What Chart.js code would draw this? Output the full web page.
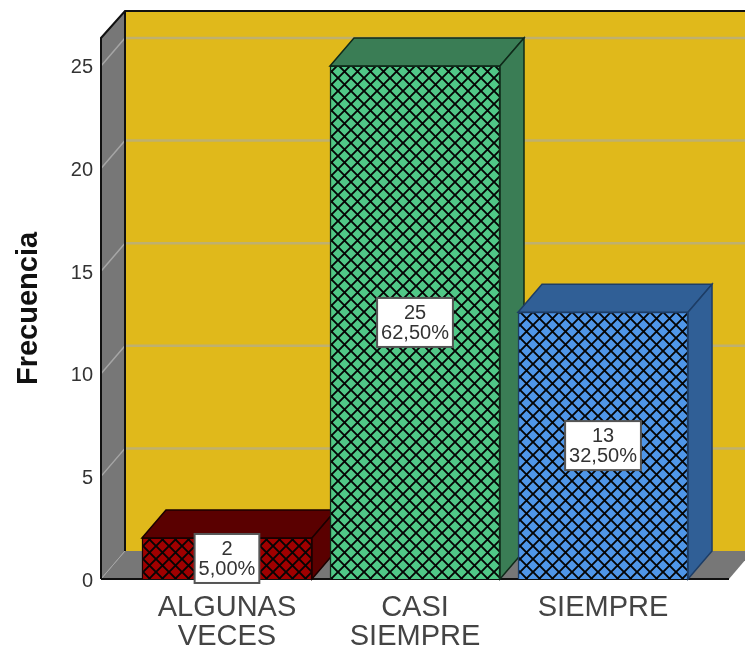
<!DOCTYPE html>
<html>
<head>
  <meta charset="utf-8">
  <script src="https://cdn.jsdelivr.net/npm/chart.js"></script>
  <title>Frecuencia</title>
  <style>
    html, body { margin: 0; padding: 0; background: #fff; }
    canvas { display: block; }
  </style>
</head>
<body>
  <canvas id="freqChart" width="745" height="648"></canvas>

  <script>
    const categories = [['ALGUNAS', 'VECES'], ['CASI', 'SIEMPRE'], ['SIEMPRE']];
    const counts = [2, 25, 13];
    const percents = ['5,00%', '62,50%', '32,50%'];
    const yTicks = [0, 5, 10, 15, 20, 25];

    const faceColors = ['#A00000', '#50C887', '#4F96E8'];
    const sideColors = ['#5A0000', '#3A7D55', '#305F96'];
    const edgeColors = ['#1a0000', '#0f2a1a', '#1d3d66'];

    // offset of the back plane against the front plane
    const depthX = 24;
    const depthY = 28;

    // crosshatch fill for the bar fronts
    function hatch(color) {
      const size = 13;
      const tile = document.createElement('canvas');
      tile.width = size;
      tile.height = size;
      const c = tile.getContext('2d');
      c.fillStyle = color;
      c.fillRect(0, 0, size, size);
      c.strokeStyle = '#050505';
      c.lineWidth = 1.9;
      c.beginPath();
      c.moveTo(-1, -1);
      c.lineTo(size + 1, size + 1);
      c.moveTo(size + 1, -1);
      c.lineTo(-1, size + 1);
      c.stroke();
      return c.createPattern(tile, 'repeat');
    }

    function poly(c, pts, fill, stroke, width) {
      c.beginPath();
      pts.forEach((p, i) => i ? c.lineTo(p[0], p[1]) : c.moveTo(p[0], p[1]));
      c.closePath();
      c.fillStyle = fill;
      c.fill();
      if (stroke) {
        c.strokeStyle = stroke;
        c.lineWidth = width;
        c.lineJoin = 'miter';
        c.stroke();
      }
    }

    // back wall, side wall, floor and grid lines behind the bars
    const roomPlugin = {
      id: 'room',
      beforeDatasetsDraw(chart) {
        const c = chart.ctx;
        const { left, right, top, bottom } = chart.chartArea;
        const y = chart.scales.y;
        const wallTop = top - depthY + 1;
        c.save();
        poly(c, [[left + depthX, wallTop], [right + depthX, wallTop], [right + depthX, bottom - depthY], [left + depthX, bottom - depthY]], '#E0B91B');
        poly(c, [[left, top], [left + depthX, wallTop], [left + depthX, bottom - depthY], [left, bottom]], '#777777');
        poly(c, [[left, bottom], [left + depthX, bottom - depthY], [right + depthX, bottom - depthY], [right, bottom]], '#777777');

        yTicks.filter(v => v > 0).forEach(v => {
          const py = y.getPixelForValue(v);
          c.lineWidth = 2.5;
          c.strokeStyle = '#BFB06E';
          c.beginPath();
          c.moveTo(left + depthX, py - depthY);
          c.lineTo(right + depthX, py - depthY);
          c.stroke();
          c.lineWidth = 1.5;
          c.strokeStyle = '#A6A6A6';
          c.beginPath();
          c.moveTo(left, py);
          c.lineTo(left + depthX, py - depthY);
          c.stroke();
        });

        c.strokeStyle = '#A6A6A6';
        c.lineWidth = 1;
        c.beginPath();
        c.moveTo(left, bottom);
        c.lineTo(left + depthX, bottom - depthY);
        c.stroke();

        c.strokeStyle = '#111';
        c.lineWidth = 2;
        c.beginPath();
        c.moveTo(left, bottom);
        c.lineTo(left, top);
        c.lineTo(left + depthX, wallTop);
        c.lineTo(right + depthX, wallTop);
        c.moveTo(left + depthX, wallTop);
        c.lineTo(left + depthX, bottom - depthY);
        c.moveTo(left, bottom);
        c.lineTo(right, bottom);
        c.stroke();

        // top and side of each bar, painted left to right so later bars overlap
        chart.getDatasetMeta(0).data.forEach((bar, i) => {
          const x0 = bar.x - bar.width / 2;
          const x1 = bar.x + bar.width / 2;
          poly(c, [[x0, bar.y], [x0 + depthX, bar.y - depthY], [x1 + depthX, bar.y - depthY], [x1, bar.y]], sideColors[i], edgeColors[i], 1.5);
          poly(c, [[x1, bar.y], [x1 + depthX, bar.y - depthY], [x1 + depthX, bar.base - depthY], [x1, bar.base]], sideColors[i], edgeColors[i], 1.5);
        });
        c.restore();
      }
    };

    // white boxes with the count and the percentage, centred on each bar
    const boxPlugin = {
      id: 'valueBoxes',
      afterDatasetsDraw(chart) {
        const c = chart.ctx;
        c.save();
        c.font = '20px "Liberation Sans", Arial, sans-serif';
        c.textAlign = 'center';
        c.textBaseline = 'middle';
        chart.getDatasetMeta(0).data.forEach((bar, i) => {
          const w = c.measureText(percents[i]).width + 8;
          const h = 49;
          const cx = bar.x;
          const cy = (bar.y + bar.base) / 2;
          c.fillStyle = '#fff';
          c.strokeStyle = '#555';
          c.lineWidth = 2;
          c.fillRect(cx - w / 2, cy - h / 2, w, h);
          c.strokeRect(cx - w / 2, cy - h / 2, w, h);
          c.fillStyle = '#333';
          c.fillText(String(counts[i]), cx, cy - 9);
          c.fillText(percents[i], cx, cy + 11);
        });
        c.restore();
      }
    };

    new Chart(document.getElementById('freqChart').getContext('2d'), {
      type: 'bar',
      data: {
        datasets: [{
          data: counts.map((v, i) => ({ x: i, y: v })),
          backgroundColor: faceColors.map(hatch),
          borderColor: edgeColors,
          borderWidth: 1.5,
          barThickness: 170
        }]
      },
      plugins: [roomPlugin, boxPlugin],
      options: {
        responsive: false,
        animation: false,
        events: [],
        layout: { padding: { top: 38, right: 16, left: 0, bottom: 0 } },
        plugins: { legend: { display: false }, tooltip: { enabled: false } },
        scales: {
          x: {
            type: 'linear',
            min: -0.67,
            max: 2.67,
            offset: false,
            grid: { display: false },
            border: { display: false },
            afterBuildTicks(scale) {
              scale.ticks = categories.map((_, i) => ({ value: i }));
            },
            afterFit(scale) { scale.height = 69; },
            ticks: {
              autoSkip: false,
              maxRotation: 0,
              padding: 6,
              color: '#444',
              font: { family: '"Liberation Sans", Arial, sans-serif', size: 29, lineHeight: 1 },
              callback: value => categories[value]
            }
          },
          y: {
            min: 0,
            max: 26.36,
            grid: { display: false },
            border: { display: false },
            afterBuildTicks(scale) {
              scale.ticks = yTicks.map(v => ({ value: v }));
            },
            afterFit(scale) { scale.width = 101; },
            ticks: {
              padding: 0,
              labelOffset: 2,
              color: '#333',
              font: { family: '"Liberation Sans", Arial, sans-serif', size: 20 }
            },
            title: {
              display: true,
              text: 'Frecuencia',
              color: '#111',
              padding: { top: 12, bottom: 0 },
              font: { family: '"Liberation Sans", Arial, sans-serif', size: 29, weight: 'bold' }
            }
          }
        }
      }
    });
  </script>
</body>
</html>
